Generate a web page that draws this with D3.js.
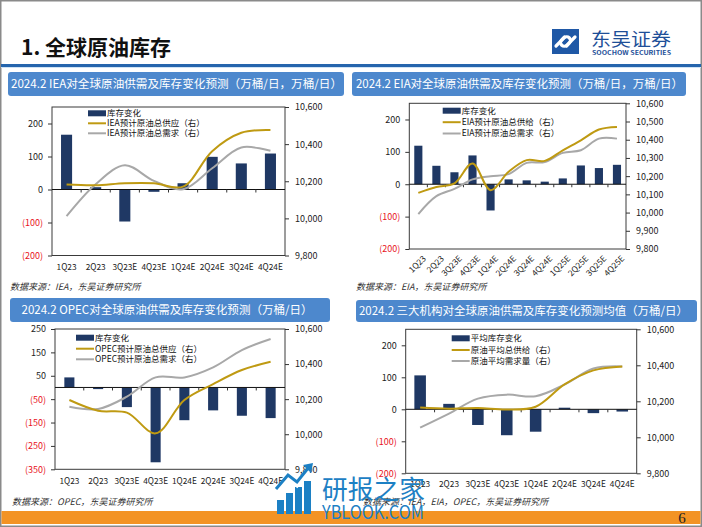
<!DOCTYPE html>
<html><head><meta charset="utf-8">
<script src="https://cdn.jsdelivr.net/npm/d3@7"></script>
<style>
body{margin:0;background:#fff}
svg{display:block}
text{font-family:"Noto Sans CJK SC","Noto Sans",sans-serif}
</style>
</head><body>
<svg id="c" width="702" height="527"></svg>
<script>
// ---------- DATA ----------
const quarters8 = ["1Q23","2Q23","3Q23E","4Q23E","1Q24E","2Q24E","3Q24E","4Q24E"];
const quarters12 = ["1Q23","2Q23","3Q23E","4Q23E","1Q24E","2Q24E","3Q24E","4Q24E","1Q25E","2Q25E","3Q25E","4Q25E"];

const ieaStock  = [166, 7, -97, -7, 19, 99, 79, 109];
const ieaSupply = [10182, 10178, 10189, 10189, 10171, 10362, 10461, 10476];
const ieaDemand = [10012, 10184, 10286, 10202, 10157, 10270, 10382, 10364];

const eiaStock  = [119, 57, 37, 89, -81, 15, 12, 8, 18, 58, 50, 60];
const eiaSupply = [10108, 10140, 10160, 10270, 10123, 10224, 10288, 10284, 10342, 10397, 10456, 10470];
const eiaDemand = [9992, 10090, 10130, 10182, 10200, 10211, 10273, 10277, 10328, 10342, 10406, 10406];

const opecStock  = [43, -7, -84, -320, -140, -98, -121, -131];
const opecSupply = [10195, 10134, 10123, 10005, 10195, 10286, 10366, 10413];
const opecDemand = [10157, 10144, 10214, 10324, 10324, 10381, 10480, 10543];

const avgStock  = [106, 17, -49, -81, -70, 5, -12, -7];
const avgSupply = [10165, 10159, 10163, 10154, 10170, 10294, 10372, 10394];
const avgDemand = [10054, 10132, 10215, 10237, 10228, 10293, 10382, 10394];

const leftTicksA = [200, 100, 0, -100, -200];
const leftTicksOpec = [250, 150, 50, -50, -150, -250, -350];
const rightTicks200 = [9800, 10000, 10200, 10400, 10600];
const rightTicks100 = [9800, 9900, 10000, 10100, 10200, 10300, 10400, 10500, 10600];

const legIEA  = ["库存变化", "IEA预计原油总供应（右）", "IEA预计原油总需求（右）"];
const legEIA  = ["库存变化", "EIA预计原油总供给（右）", "EIA预计原油总需求（右）"];
const legOPEC = ["库存变化", "OPEC预计原油总供应（右）", "OPEC预计原油总需求（右）"];
const legAVG  = ["平均库存变化", "原油平均总供给（右）", "原油平均需求量（右）"];

// ---------- STYLE ----------
const BAR = "#1f3864", GOLD = "#bf9a12", GRAY = "#a8a8a8", TITLEBG = "#4d88cd";
const svg = d3.select("#c");

// frame of page
svg.append("rect").attr("x",0.75).attr("y",0.75).attr("width",700.5).attr("height",525.5)
  .attr("fill","#fff").attr("stroke","#8a8a8a").attr("stroke-width",1.5);

// header
svg.append("text").attr("x",21).attr("y",55).attr("font-size",21).attr("font-weight","bold")
  .attr("fill","#111").text("1.  全球原油库存");
svg.append("rect").attr("x",1).attr("y",64).attr("width",700).attr("height",3).attr("fill","#2565ad");
svg.append("rect").attr("x",1).attr("y",67).attr("width",700).attr("height",1).attr("fill","#cfe3f5");

// logo
svg.append("rect").attr("x",552).attr("y",29).attr("width",27).attr("height",25).attr("fill","#1f58a6");
svg.append("path").attr("d","M556,46 L564,38 A3.6,3.6 0 0 1 569.5,43 L566.5,46")
  .attr("fill","none").attr("stroke","#fff").attr("stroke-width",3.2).attr("stroke-linecap","round");
svg.append("path").attr("d","M575,37 L567,45 A3.6,3.6 0 0 1 561.5,40 L564.5,37")
  .attr("fill","none").attr("stroke","#fff").attr("stroke-width",3.2).attr("stroke-linecap","round");
svg.append("text").attr("x",591).attr("y",46).attr("font-size",18.5).attr("fill","#1e4f98")
  .attr("textLength",80).attr("lengthAdjust","spacingAndGlyphs").text("东吴证券");
svg.append("text").attr("x",592).attr("y",55).attr("font-size",6).attr("font-weight","bold").attr("fill","#1e4f98")
  .attr("textLength",79).attr("lengthAdjust","spacingAndGlyphs").text("SOOCHOW SECURITIES");

// footer
svg.append("rect").attr("x",1.5).attr("y",511).attr("width",699).attr("height",13).attr("fill","#f39324");
svg.append("text").attr("x",682).attr("y",523).attr("font-size",15).attr("text-anchor","middle")
  .style("font-family","'Liberation Serif','DejaVu Serif',serif")
  .attr("fill","#222").text("6");

const fmtR = d3.format(",");
function fmtL(d){ return d < 0 ? "(" + Math.abs(d) + ")" : String(d); }

function panel(o){
  const g = svg.append("g");
  // title box
  g.append("rect").attr("x",o.tb[0]).attr("y",o.tb[1]).attr("width",o.tb[2]-o.tb[0]).attr("height",o.tb[3]-o.tb[1])
    .attr("rx",3).attr("fill",TITLEBG);
  g.append("text").attr("x",o.tt[0]).attr("y",(o.tb[1]+o.tb[3])/2).attr("dy","0.36em")
    .attr("font-size",11.5).attr("fill","#fff").attr("textLength",o.tt[1]).attr("lengthAdjust","spacingAndGlyphs")
    .text(o.title);

  const x = d3.scaleBand().domain(o.cats).range([o.l, o.r]);
  const yL = d3.scaleLinear().domain(o.lDom).range([o.b, o.t]);
  const yR = d3.scaleLinear().domain([9800, 10600]).range([o.b, o.t]);
  const cx = (i) => x(o.cats[i]) + x.bandwidth()/2;

  // bars
  const bw = x.bandwidth()*o.bf;
  g.append("g").selectAll("rect").data(o.stock).join("rect")
    .attr("x",(d,i)=>cx(i)-bw/2).attr("y",d=>yL(Math.max(0,d)))
    .attr("width",bw).attr("height",d=>Math.abs(yL(d)-yL(0))).attr("fill",BAR);

  // frame
  g.append("rect").attr("x",o.l).attr("y",o.t).attr("width",o.r-o.l).attr("height",o.b-o.t)
    .attr("fill","none").attr("stroke","#3a3a3a").attr("stroke-width",1);

  // zero line with category ticks
  const z = yL(0);
  g.append("line").attr("x1",o.l).attr("x2",o.r).attr("y1",z).attr("y2",z).attr("stroke","#111").attr("stroke-width",1);
  g.append("g").selectAll("line").data(o.cats.slice(1)).join("line")
    .attr("x1",d=>x(d)).attr("x2",d=>x(d)).attr("y1",z).attr("y2",z+3).attr("stroke","#333");

  // left axis
  const la = g.append("g").attr("transform",`translate(${o.l},0)`)
    .call(d3.axisLeft(yL).tickValues(o.lTicks).tickSize(4).tickPadding(5).tickFormat(fmtL));
  la.select(".domain").remove();
  la.selectAll("line").attr("stroke","#333");
  la.selectAll("text").attr("font-size",9).attr("font-family","'Noto Sans CJK SC',sans-serif")
    .attr("fill",d=>d<0?"#e8141c":"#222");

  // right axis
  const ra = g.append("g").attr("transform",`translate(${o.r},0)`)
    .call(d3.axisRight(yR).tickValues(o.rTicks).tickSize(4).tickPadding(6).tickFormat(fmtR));
  ra.select(".domain").remove();
  ra.selectAll("line").attr("stroke","#333");
  ra.selectAll("text").attr("font-size",9).attr("font-family","'Noto Sans CJK SC',sans-serif").attr("fill","#222");

  // lines
  const line = d3.line().x((d,i)=>cx(i)).y(d=>yR(d)).curve(d3.curveCatmullRom.alpha(0.5));
  g.append("path").attr("d",line(o.demand)).attr("fill","none").attr("stroke",GRAY).attr("stroke-width",2);
  g.append("path").attr("d",line(o.supply)).attr("fill","none").attr("stroke",GOLD).attr("stroke-width",2);

  // x labels
  if (o.rot) {
    g.append("g").selectAll("text").data(o.cats).join("text")
      .attr("transform",(d,i)=>`translate(${cx(i)+4},${o.b+6}) rotate(-45)`)
      .attr("text-anchor","end").attr("dy","0.7em").attr("font-size",8.3).attr("fill","#222").text(d=>d);
  } else {
    g.append("g").selectAll("text").data(o.cats).join("text")
      .attr("x",(d,i)=>cx(i)).attr("y",o.xy).attr("dy","0.35em")
      .attr("text-anchor","middle").attr("font-size",8.3).attr("fill","#222").text(d=>d);
  }

  // legend
  const lg = g.append("g");
  const sx = o.leg[0];
  o.leg[1].forEach((yy,k)=>{
    if (k===0) lg.append("rect").attr("x",sx).attr("y",yy-3).attr("width",18).attr("height",6).attr("fill",BAR);
    else lg.append("line").attr("x1",sx).attr("x2",sx+18).attr("y1",yy).attr("y2",yy)
      .attr("stroke",k===1?GOLD:GRAY).attr("stroke-width",2);
    lg.append("text").attr("x",sx+19).attr("y",yy).attr("dy","0.35em").attr("font-size",8.5).attr("fill","#111").text(o.legText[k]);
  });

  // source
  svg.append("text").attr("x",o.src[0]).attr("y",o.src[1]).attr("dy","0.35em").attr("font-size",9)
    .attr("font-style","italic").attr("fill","#333").text(o.srcText);
}

panel({
  title:"2024.2 IEA对全球原油供需及库存变化预测（万桶/日，万桶/日）",
  tb:[8,72,344,96], tt:[11,331],
  cats:quarters8, stock:ieaStock, supply:ieaSupply, demand:ieaDemand,
  l:52, r:285, t:107, b:255.5, lDom:[-200,250], lTicks:leftTicksA, rTicks:rightTicks200,
  bf:0.38, xy:267, leg:[88,[113.3,123.3,133.3]], legText:legIEA,
  src:[10,287], srcText:"数据来源：IEA，东吴证券研究所"
});
panel({
  title:"2024.2 EIA对全球原油供需及库存变化预测（万桶/日，万桶/日）",
  tb:[352,72,686,96], tt:[356,327],
  cats:quarters12, stock:eiaStock, supply:eiaSupply, demand:eiaDemand,
  l:409.3, r:626, t:103.3, b:249, lDom:[-200,250], lTicks:leftTicksA, rTicks:rightTicks100,
  bf:0.45, rot:true, leg:[442.7,[110.7,122.2,133.5]], legText:legEIA,
  src:[356,287], srcText:"数据来源：EIA，东吴证券研究所"
});
panel({
  title:"2024.2 OPEC对全球原油供需及库存变化预测（万桶/日）",
  tb:[10,298,330,322], tt:[21.5,291],
  cats:quarters8, stock:opecStock, supply:opecSupply, demand:opecDemand,
  l:55, r:285, t:329, b:469.3, lDom:[-350,250], lTicks:leftTicksOpec, rTicks:rightTicks200,
  bf:0.35, xy:481.5, leg:[76,[337.7,348.7,359.3]], legText:legOPEC,
  src:[12,502], srcText:"数据来源：OPEC，东吴证券研究所"
});
panel({
  title:"2024.2 三大机构对全球原油供需及库存变化预测均值（万桶/日）",
  tb:[356,300,697,322], tt:[359,329],
  cats:quarters8, stock:avgStock, supply:avgSupply, demand:avgDemand,
  l:405.7, r:636.7, t:329.3, b:473.3, lDom:[-200,250], lTicks:leftTicksA, rTicks:rightTicks200,
  bf:0.4, xy:484.3, leg:[451.7,[338.3,350,361]], legText:legAVG,
  src:[363,502], srcText:"数据来源：IEA，EIA，OPEC，东吴证券研究所"
});

// watermark
const wm = svg.append("g").attr("fill","#1c80c4");
[[277,500,7,14],[286,493,7,21],[295,487,7,27],[304,481,7,33]].forEach(b=>{
  wm.append("rect").attr("x",b[0]).attr("y",b[1]).attr("width",b[2]).attr("height",b[3]);
});
wm.append("path").attr("d","M276,492 L288,478 L297,485 L309,470").attr("fill","none")
  .attr("stroke","#fff").attr("stroke-width",4.5);
wm.append("path").attr("d","M276,489 L288,475 L297,482 L309,467").attr("fill","none")
  .attr("stroke","#1c80c4").attr("stroke-width",3);
wm.append("path").attr("d","M303,465 L313,463 L311,473 Z");
wm.append("text").attr("x",322).attr("y",499).attr("font-size",26).attr("textLength",103)
  .attr("lengthAdjust","spacingAndGlyphs").text("研报之家");
wm.append("text").attr("x",322).attr("y",519).attr("font-size",19).attr("textLength",102)
  .attr("lengthAdjust","spacingAndGlyphs").text("YBLOOK.COM");
</script>
</body></html>
